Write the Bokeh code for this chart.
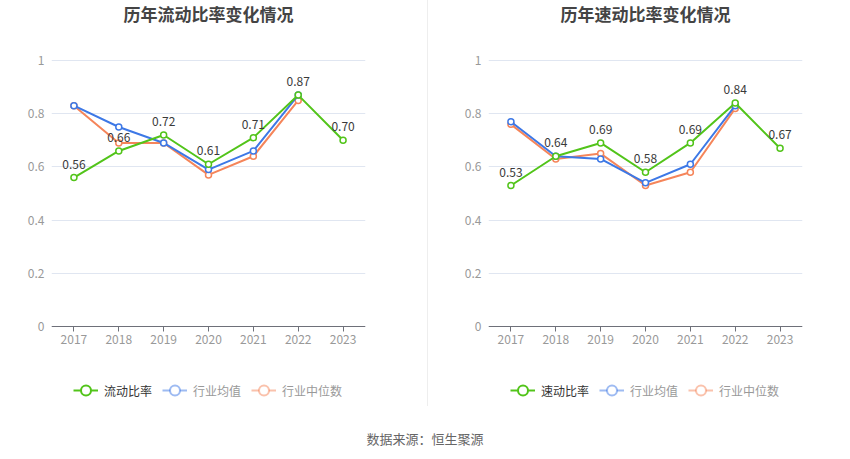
from bokeh.plotting import figure
from bokeh.models import (Range1d, FactorRange, FixedTicker, Legend, LegendItem,
                          Div, Title, ColumnDataSource)
from bokeh.layouts import row, column
from bokeh.embed import file_html
from bokeh.resources import INLINE
from bokeh.core.properties import value

years = ["2017", "2018", "2019", "2020", "2021", "2022", "2023"]
years_ind = ["2017", "2018", "2019", "2020", "2021", "2022"]

current_ratio = [0.56, 0.66, 0.72, 0.61, 0.71, 0.87, 0.70]
current_avg = [0.83, 0.75, 0.69, 0.59, 0.66, 0.87]
current_median = [0.83, 0.69, 0.69, 0.57, 0.64, 0.85]

quick_ratio = [0.53, 0.64, 0.69, 0.58, 0.69, 0.84, 0.67]
quick_avg = [0.77, 0.64, 0.63, 0.54, 0.61, 0.83]
quick_median = [0.76, 0.63, 0.65, 0.53, 0.58, 0.82]

y_ticks = [0, 0.2, 0.4, 0.6, 0.8, 1]
y_tick_labels = ["0", "0.2", "0.4", "0.6", "0.8", "1"]

FONT = "Noto Sans CJK SC"
GREEN = "#52c41a"
BLUE = "#3d78e6"
ORANGE = "#f5855a"

FIG_H = 428
TOP = 27               # frame top; value 1 sits at y=60, value 0 at y=326
BOTTOM = 410
PX = 266.0             # pixels per unit
Y_END = 1 + (60 - TOP) / PX
Y_START = -(BOTTOM - 326) / PX


def make_chart(title, main_label, main_vals, avg_vals, med_vals, width, bl, br):
    p = figure(x_range=FactorRange(*years), y_range=Range1d(Y_START, Y_END),
               width=width, height=FIG_H, output_backend="svg",
               toolbar_location=None, min_border_left=bl, min_border_right=br,
               min_border_top=TOP, min_border_bottom=FIG_H - BOTTOM)
    p.title = Title(text=title, align="center", text_font_size="17px",
                    text_font=FONT, text_font_style="bold", text_color="#444444",
                    vertical_align="top", standoff=0)
    p.outline_line_color = None
    p.background_fill_color = "white"
    p.border_fill_color = "white"

    p.xgrid.grid_line_color = None
    p.ygrid.grid_line_color = "#e0e6f1"
    p.yaxis.ticker = FixedTicker(ticks=y_ticks)
    p.yaxis.major_label_overrides = {t: l for t, l in zip(y_ticks, y_tick_labels)}
    p.yaxis.axis_line_color = None
    p.yaxis.major_tick_line_color = None
    p.yaxis.minor_tick_line_color = None
    p.yaxis.major_tick_out = 0
    p.yaxis.major_tick_in = 0
    p.yaxis.major_label_standoff = 7
    p.xaxis.fixed_location = 0
    p.xaxis.axis_line_color = "#6e7079"
    p.xaxis.major_tick_line_color = "#6e7079"
    p.xaxis.major_tick_out = 5
    p.xaxis.major_tick_in = 0
    p.xaxis.major_label_standoff = 3
    for ax in (p.xaxis, p.yaxis):
        ax.major_label_text_font = FONT
        ax.major_label_text_font_size = "12px"
        ax.major_label_text_color = "#999999"

    # industry median, industry average, main series
    p.line(years_ind, med_vals, line_color=ORANGE, line_width=2)
    p.scatter(years_ind, med_vals, size=6, marker="circle", line_color=ORANGE,
              fill_color="white", line_width=1.5)
    p.line(years_ind, avg_vals, line_color=BLUE, line_width=2)
    p.scatter(years_ind, avg_vals, size=6, marker="circle", line_color=BLUE,
              fill_color="white", line_width=1.5)
    p.line(years, main_vals, line_color=GREEN, line_width=2)
    p.scatter(years, main_vals, size=6, marker="circle", line_color=GREEN,
              fill_color="white", line_width=1.5)

    src = ColumnDataSource(dict(x=years, y=main_vals,
                                t=["%.2f" % v for v in main_vals]))
    p.text(x="x", y="y", text="t", source=src, text_align="center",
           text_baseline="bottom", y_offset=-9, text_font=value(FONT),
           text_font_size="12px", text_color="#3a3a3a")

    # legend-only renderers (placed far outside the visible range)
    def leg(color, alpha):
        ln = p.line(x=["2017"], y=[50], line_color=color, line_width=2,
                    line_alpha=alpha)
        sc = p.scatter(x=["2017"], y=[50], marker="circle", size=10,
                       line_color=color, line_alpha=alpha, fill_color="white",
                       line_width=2)
        return [ln, sc]

    common = dict(orientation="horizontal", glyph_width=25, glyph_height=26,
                  label_height=26, label_standoff=6, padding=0, margin=0,
                  spacing=10, border_line_alpha=0, background_fill_alpha=0,
                  label_text_font=FONT, label_text_font_size="12px")
    l1 = Legend(items=[LegendItem(label=main_label, renderers=leg(GREEN, 1.0))],
                location=(22, 7), label_text_color="#333333", **common)
    l2 = Legend(items=[LegendItem(label="行业均值", renderers=leg(BLUE, 0.5)),
                       LegendItem(label="行业中位数", renderers=leg(ORANGE, 0.5))],
                location=(111, 7), label_text_color="#999999", **common)
    p.add_layout(l1, "center")
    p.add_layout(l2, "center")
    return p


p1 = make_chart("历年流动比率变化情况", "流动比率", current_ratio, current_avg,
                current_median, 427, 51, 62)
p2 = make_chart("历年速动比率变化情况", "速动比率", quick_ratio, quick_avg,
                quick_median, 422, 60, 48)
sep = Div(text="", width=1, height=406, margin=0,
          styles={"background-color": "#eeeeee"})
footer = Div(text="数据来源：恒生聚源", width=850, height=22, margin=0,
             styles={"text-align": "center", "font-size": "13px", "color": "#666666",
                     "font-family": FONT, "width": "850px", "line-height": "22px"})
layout = column(row(p1, sep, p2, spacing=0), footer, spacing=0)

open("out.html", "w").write(file_html(layout, INLINE))
